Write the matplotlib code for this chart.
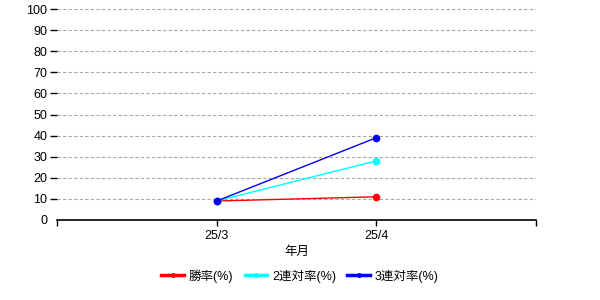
import matplotlib
matplotlib.use("Agg")
import matplotlib.pyplot as plt
from matplotlib.lines import Line2D

plt.rcParams['font.family'] = ['Liberation Sans', 'Noto Sans CJK JP', 'DejaVu Sans']

categories = ["25/3", "25/4"]
win = [9, 11]
ren2 = [9, 28]
ren3 = [9, 39]
series_names = ["勝率(%)", "2連対率(%)", "3連対率(%)"]
colors = ["#ff0000", "#00ffff", "#0000ff"]

fig = plt.figure(figsize=(6, 3), dpi=100)
ax = fig.add_axes([57/600, 1-220/300, (536-57)/600, (220-9)/300])

xs = [1, 2]
handles = []
for vals, name, c in zip([win, ren2, ren3], series_names, colors):
    ax.plot(xs, vals, color=c, lw=1, marker='o', ms=4.5)
    handles.append(Line2D([], [], color=c, lw=2.5, marker='o', ms=2.5, label=name))

ax.set_xlim(0, 3)
ax.set_ylim(0, 100)
ax.set_yticks(range(0, 101, 10))
ax.set_xticks([0, 1, 2, 3])
ax.set_xticklabels(["", categories[0], categories[1], ""])
ax.yaxis.grid(True, linestyle=(0, (3, 2)), color='#a8a8a8', lw=0.8)
ax.set_axisbelow(True)
for s in ['top', 'right', 'left']:
    ax.spines[s].set_visible(False)
ax.spines['bottom'].set_linewidth(1.2)
ax.tick_params(axis='y', length=5, width=1, labelsize=9, pad=2)
ax.tick_params(axis='x', length=4, width=1, labelsize=9, pad=3)
ax.yaxis.get_major_ticks()[0].tick1line.set_visible(False)
ax.set_xlabel("年月", fontsize=9, labelpad=3)

fig.legend(handles=handles, loc='center', bbox_to_anchor=(0.5, 1-276/300), ncol=3, frameon=False,
           fontsize=9, handlelength=1.8, columnspacing=0.9, handletextpad=0.4)

fig.savefig("out.png", dpi=100)
